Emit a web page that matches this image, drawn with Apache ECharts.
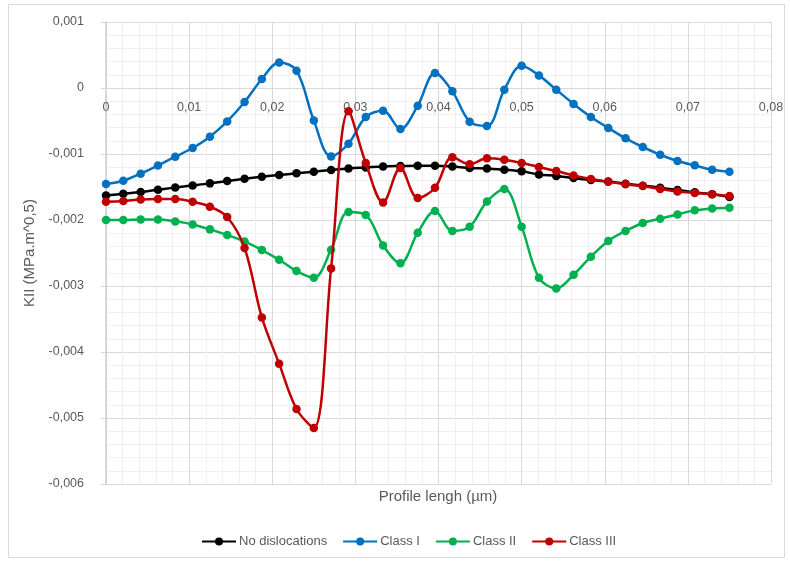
<!DOCTYPE html>
<html>
<head>
<meta charset="utf-8">
<script src="https://cdn.jsdelivr.net/npm/echarts@6/dist/echarts.min.js"></script>
<style>html,body{margin:0;padding:0;background:#fff}#c{width:790px;height:563px}</style>
</head>
<body>
<div id="c"></div>
<script>
const xValues = [0,0.00208,0.00417,0.00625,0.00833,0.01042,0.0125,0.01458,0.01667,0.01875,0.02083,0.02292,0.025,0.02708,0.02917,0.03125,0.03333,0.03542,0.0375,0.03958,0.04167,0.04375,0.04583,0.04792,0.05,0.05208,0.05417,0.05625,0.05833,0.06042,0.0625,0.06458,0.06667,0.06875,0.07083,0.07292,0.075];
const noDislocations = [-0.001627,-0.001602,-0.001576,-0.001541,-0.001506,-0.001476,-0.001445,-0.001409,-0.001374,-0.001344,-0.001318,-0.001293,-0.001268,-0.001242,-0.001218,-0.001203,-0.001188,-0.001182,-0.001177,-0.001177,-0.001188,-0.001212,-0.001218,-0.001238,-0.001263,-0.001309,-0.001333,-0.001364,-0.001394,-0.001415,-0.00145,-0.00148,-0.00151,-0.001545,-0.00158,-0.00161,-0.00165];
const classI = [-0.001455,-0.001405,-0.001298,-0.001173,-0.001041,-0.000909,-0.000738,-0.000506,-0.000212,0.000136,0.000388,0.000262,-0.000491,-0.001036,-0.000844,-0.000439,-0.000344,-0.000621,-0.000268,0.000227,-0.000051,-0.000511,-0.000576,-0.000026,0.000338,0.000191,-0.000026,-0.000242,-0.000439,-0.000606,-0.000763,-0.000894,-0.001011,-0.001106,-0.001172,-0.001238,-0.001268];
const classII = [-0.002,-0.002,-0.001991,-0.001991,-0.002021,-0.002067,-0.002142,-0.002227,-0.002324,-0.002455,-0.002602,-0.002773,-0.002874,-0.00245,-0.001879,-0.001924,-0.002385,-0.002657,-0.002192,-0.001864,-0.002167,-0.002101,-0.001718,-0.00153,-0.002101,-0.002874,-0.003036,-0.002829,-0.002556,-0.002318,-0.002167,-0.002045,-0.00198,-0.001915,-0.001854,-0.001824,-0.001813];
const classIII = [-0.001723,-0.001712,-0.001688,-0.001682,-0.001682,-0.001723,-0.001798,-0.001955,-0.002424,-0.003476,-0.004177,-0.004864,-0.005152,-0.002733,-0.000354,-0.001136,-0.001733,-0.001212,-0.001667,-0.001511,-0.001051,-0.001157,-0.001066,-0.001086,-0.001136,-0.001197,-0.001258,-0.001324,-0.001379,-0.00142,-0.00146,-0.001485,-0.00153,-0.001567,-0.00159,-0.00161,-0.001636];
const seriesNames = ['No dislocations','Class I','Class II','Class III'];
const seriesColors = ['#000000','#0070C0','#00B050','#C00000'];
const xAxisTitle = 'Profile lengh (µm)';
const yAxisTitle = 'KII (MPa.m^0,5)';

const FONT = 'Liberation Sans, Arial, sans-serif';
const TXT = '#595959';
function fmt(v, d){ const n = Number(v.toFixed(d)); return n === 0 ? '0' : String(n).replace('.', ','); }

const yMin = -0.006, yMax = 0.001;
const gridTop = 22, gridBottom = 79, chartH = 563;
const plotH = chartH - gridTop - gridBottom;
// distance from plot bottom up to the y = 0 line (so x-axis sits on zero)
const zeroOffset = -plotH * (0 - yMin) / (yMax - yMin);

const allData = [noDislocations, classI, classII, classIII];
const chart = echarts.init(document.getElementById('c'), null, {renderer:'canvas'});
chart.setOption({
  animation: false,
  backgroundColor: '#ffffff',
  grid: {left: 106, right: 19, top: gridTop, bottom: gridBottom, containLabel: false},
  graphic: [
    {type:'rect', shape:{x:8.5, y:4.5, width:776, height:553}, style:{fill:'none', stroke:'#d9d9d9', lineWidth:1}, silent:true, z:-10},
    {type:'text', x: 438, y: 497, style:{text: xAxisTitle, font:'15px ' + FONT, fill: TXT, align:'center', verticalAlign:'middle'}},
  ],
  legend: {
    top: 530, left: 196,
    itemWidth: 34, itemHeight: 10, itemGap: 15,
    textStyle: {color: TXT, fontSize: 13, fontFamily: FONT, padding: [0,0,0,-2]},
    data: seriesNames
  },
  xAxis: {
    type: 'value', min: 0, max: 0.08, interval: 0.01,
    position: 'bottom', offset: zeroOffset,
    axisLine: {show: true, onZero: false, lineStyle: {color: '#d9d9d9'}},
    axisTick: {show: true, length: 5, lineStyle: {color: '#d9d9d9'}},
    axisLabel: {color: TXT, fontSize: 12.5, fontFamily: FONT, margin: 13, formatter: v => fmt(v,3)},
    splitLine: {show: true, lineStyle: {color: '#d9d9d9'}},
    minorTick: {show: false, splitNumber: 5},
    minorSplitLine: {show: true, lineStyle: {color: '#f0f0f0'}}
  },
  yAxis: {
    type: 'value', min: yMin, max: yMax, interval: 0.001,
    name: yAxisTitle, nameLocation: 'middle', nameGap: 62, nameRotate: 90,
    nameTextStyle: {color: TXT, fontSize: 15, fontFamily: FONT},
    axisLine: {show: true, onZero: false, lineStyle: {color: '#d0d0d0', width: 1.5}},
    axisTick: {show: true, length: 5, lineStyle: {color: '#d9d9d9'}},
    axisLabel: {color: TXT, fontSize: 12.5, fontFamily: FONT, margin: 22, formatter: v => fmt(v,4)},
    splitLine: {show: true, lineStyle: {color: '#d9d9d9'}},
    minorTick: {show: false, splitNumber: 5},
    minorSplitLine: {show: true, lineStyle: {color: '#f0f0f0'}}
  },
  series: seriesNames.map((n, k) => ({
    name: n, type: 'line', smooth: 0.35,
    data: xValues.map((x, i) => [x, allData[k][i]]),
    symbol: 'circle', symbolSize: 8.5, showSymbol: true,
    lineStyle: {color: seriesColors[k], width: 2.5},
    itemStyle: {color: seriesColors[k]},
    z: 2 + k
  }))
});
</script>
</body>
</html>
